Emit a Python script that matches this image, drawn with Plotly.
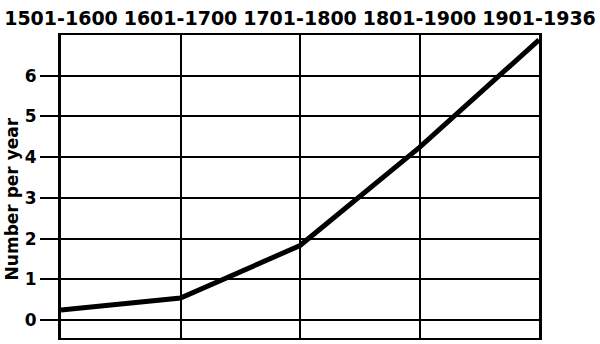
import plotly.graph_objects as go

periods = ["1501-1600", "1601-1700", "1701-1800", "1801-1900", "1901-1936"]
per_year = [0.25, 0.54, 1.83, 4.24, 6.88]
y_ticks = [0, 1, 2, 3, 4, 5, 6]

FONT = "DejaVu Sans"

fig = go.Figure()
fig.add_trace(go.Scatter(
    x=list(range(len(periods))), y=per_year, mode="lines",
    line=dict(color="black", width=5), showlegend=False, hoverinfo="skip",
))

fig.update_layout(
    width=600, height=344,
    margin=dict(l=61, r=59, t=35, b=4),
    paper_bgcolor="white", plot_bgcolor="white",
    font=dict(family=FONT, color="black"),
    xaxis=dict(
        side="top", range=[0, len(periods) - 1],
        tickmode="array", tickvals=list(range(len(periods))), ticktext=periods,
        tickfont=dict(family=FONT, size=19, color="black", weight="bold"),
        showgrid=True, gridcolor="black", gridwidth=2,
        showline=True, linecolor="black", linewidth=2, mirror=True,
        ticks="", zeroline=False,
    ),
    yaxis=dict(
        range=[-0.44, 7], tickmode="array", tickvals=y_ticks,
        tickfont=dict(family=FONT, size=17, color="black", weight="bold"),
        showgrid=True, gridcolor="black", gridwidth=2,
        showline=True, linecolor="black", linewidth=3, mirror=True,
        ticks="outside", ticklen=18, tickwidth=2, tickcolor="black",
        zeroline=False,
    ),
    annotations=[dict(
        text="Number per year", textangle=-90,
        xref="paper", yref="paper", x=-0.103, y=0.46,
        xanchor="center", yanchor="middle", showarrow=False,
        font=dict(family=FONT, size=17, color="black", weight="bold"),
    )],
)

fig.write_html("out.html")
